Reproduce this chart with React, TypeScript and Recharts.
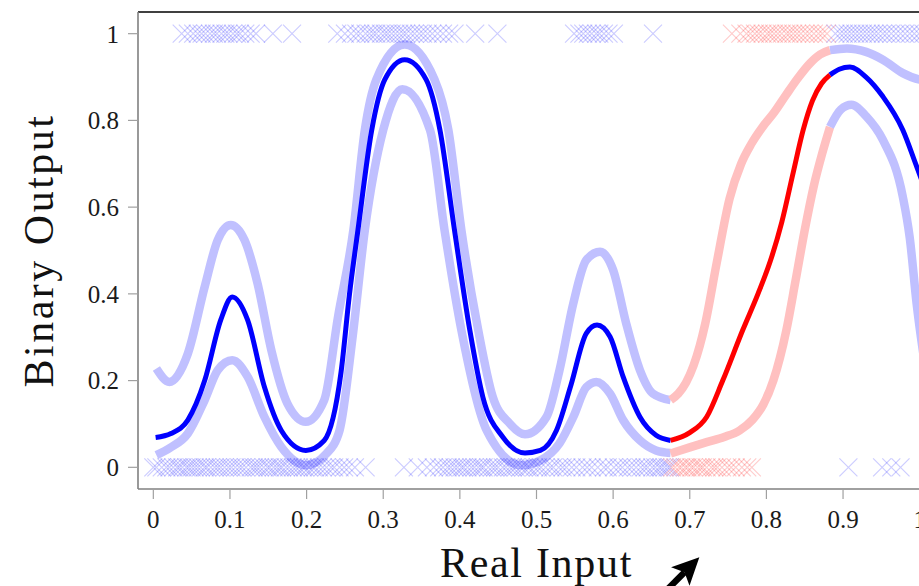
import React from "react";
import { ComposedChart, Line, Scatter, XAxis, YAxis, ReferenceLine } from "recharts";

// ---- tick labels ----
const xTicks = [0, 0.1, 0.2, 0.3, 0.4, 0.5, 0.6, 0.7, 0.8, 0.9, 1];
const yTicks = [0, 0.2, 0.4, 0.6, 0.8, 1];

// ---- predictive mean (blue, first part) ----
const meanBlueAX = [0.003, 0.023, 0.045, 0.067, 0.088, 0.103, 0.123, 0.145, 0.167, 0.199, 0.223, 0.245, 0.256, 0.267, 0.285, 0.302, 0.328, 0.356, 0.374, 0.393, 0.413, 0.43, 0.456, 0.485, 0.505, 0.526, 0.545, 0.565, 0.579, 0.596, 0.613, 0.635, 0.656, 0.675];
const meanBlueAY = [0.069, 0.078, 0.109, 0.2, 0.34, 0.393, 0.34, 0.185, 0.085, 0.039, 0.062, 0.22, 0.4, 0.547, 0.778, 0.894, 0.94, 0.894, 0.778, 0.547, 0.316, 0.162, 0.07, 0.033, 0.039, 0.085, 0.19, 0.309, 0.328, 0.301, 0.209, 0.116, 0.074, 0.062];

// ---- upper band (blue, first part) ----
const upperBlueAX = [0.004, 0.021, 0.045, 0.067, 0.084, 0.101, 0.119, 0.136, 0.154, 0.175, 0.199, 0.223, 0.241, 0.261, 0.276, 0.291, 0.328, 0.367, 0.385, 0.402, 0.424, 0.443, 0.465, 0.485, 0.513, 0.53, 0.548, 0.565, 0.583, 0.6, 0.617, 0.635, 0.652, 0.675];
const upperBlueAY = [0.228, 0.197, 0.262, 0.416, 0.524, 0.559, 0.524, 0.424, 0.27, 0.147, 0.105, 0.155, 0.347, 0.547, 0.778, 0.894, 0.975, 0.894, 0.778, 0.547, 0.316, 0.162, 0.101, 0.076, 0.116, 0.224, 0.378, 0.478, 0.497, 0.455, 0.332, 0.224, 0.17, 0.155];

// ---- lower band (blue, first part) ----
const lowerBlueAX = [0.004, 0.022, 0.045, 0.067, 0.084, 0.103, 0.123, 0.145, 0.167, 0.2, 0.225, 0.243, 0.26, 0.276, 0.3, 0.325, 0.361, 0.38, 0.402, 0.435, 0.48, 0.505, 0.53, 0.548, 0.565, 0.578, 0.596, 0.613, 0.635, 0.656, 0.675];
const lowerBlueAY = [0.028, 0.045, 0.078, 0.155, 0.224, 0.247, 0.209, 0.116, 0.047, 0.005, 0.03, 0.085, 0.3, 0.547, 0.778, 0.872, 0.778, 0.547, 0.316, 0.085, 0.005, 0.016, 0.055, 0.116, 0.185, 0.197, 0.17, 0.109, 0.062, 0.039, 0.033];

// ---- red segment ----
const meanRedX = [0.675, 0.7, 0.722, 0.743, 0.769, 0.789, 0.805, 0.82, 0.835, 0.848, 0.86, 0.872, 0.883];
const meanRedY = [0.062, 0.08, 0.116, 0.2, 0.316, 0.4, 0.475, 0.565, 0.68, 0.778, 0.845, 0.885, 0.905];
const upperRedX = [0.675, 0.685, 0.695, 0.705, 0.713, 0.72, 0.735, 0.752, 0.767, 0.78, 0.795, 0.81, 0.825, 0.84, 0.857, 0.87, 0.883];
const upperRedY = [0.155, 0.17, 0.195, 0.235, 0.28, 0.33, 0.47, 0.62, 0.7, 0.745, 0.785, 0.818, 0.857, 0.895, 0.932, 0.952, 0.962];
const lowerRedX = [0.675, 0.7, 0.722, 0.745, 0.765, 0.782, 0.796, 0.809, 0.826, 0.838, 0.85, 0.862, 0.873, 0.883];
const lowerRedY = [0.032, 0.046, 0.058, 0.07, 0.085, 0.11, 0.145, 0.2, 0.316, 0.43, 0.547, 0.65, 0.725, 0.785];

// ---- blue, last part ----
const meanBlueBX = [0.883, 0.895, 0.909, 0.93, 0.952, 0.978, 0.996, 1.02];
const meanBlueBY = [0.905, 0.918, 0.923, 0.9, 0.855, 0.778, 0.694, 0.58];
const upperBlueBX = [0.883, 0.905, 0.93, 0.952, 0.978, 1.0, 1.02];
const upperBlueBY = [0.962, 0.966, 0.958, 0.94, 0.909, 0.894, 0.89];
const lowerBlueBX = [0.883, 0.897, 0.911, 0.93, 0.952, 0.978, 0.987, 0.996, 1.01];
const lowerBlueBY = [0.785, 0.825, 0.836, 0.81, 0.755, 0.624, 0.53, 0.378, 0.2];

// ---- observations (x positions) ----
const blueZeroA = [0.0, 0.004, 0.011, 0.017, 0.021, 0.026, 0.031, 0.034, 0.038, 0.043, 0.046, 0.05, 0.054, 0.058, 0.062, 0.067, 0.07, 0.075, 0.08, 0.084, 0.088, 0.093, 0.098, 0.102, 0.107, 0.112, 0.116, 0.121, 0.127, 0.131, 0.135, 0.139, 0.144, 0.149, 0.152, 0.157, 0.161, 0.165, 0.168, 0.173, 0.177, 0.182, 0.186, 0.19, 0.195, 0.198, 0.203, 0.208, 0.211, 0.216, 0.221, 0.226, 0.232, 0.236, 0.243, 0.249, 0.255, 0.263, 0.277];
const blueZeroB = [0.327, 0.345, 0.357, 0.366, 0.373, 0.378, 0.384, 0.388, 0.393, 0.397, 0.402, 0.405, 0.41, 0.415, 0.419, 0.424, 0.428, 0.431, 0.437, 0.442, 0.446, 0.45, 0.456, 0.46, 0.465, 0.469, 0.473, 0.479, 0.483, 0.488, 0.491, 0.497, 0.502, 0.506, 0.512, 0.518, 0.522, 0.529, 0.534, 0.539, 0.546, 0.552, 0.56, 0.566, 0.572, 0.58, 0.588, 0.593, 0.601, 0.607, 0.612, 0.619, 0.624, 0.63, 0.636, 0.641, 0.645, 0.651, 0.655, 0.66, 0.663, 0.667, 0.671, 0.674];
const blueZeroC = [0.907, 0.951, 0.963, 0.975];
const redZero = [0.677, 0.681, 0.686, 0.689, 0.694, 0.697, 0.702, 0.705, 0.71, 0.714, 0.717, 0.722, 0.728, 0.732, 0.736, 0.742, 0.749, 0.754, 0.76, 0.768, 0.775, 0.781];
const blueOneA = [0.037, 0.045, 0.052, 0.058, 0.063, 0.068, 0.074, 0.079, 0.083, 0.089, 0.094, 0.098, 0.104, 0.109, 0.113, 0.12, 0.127, 0.134, 0.156, 0.181];
const blueOneB = [0.24, 0.25, 0.258, 0.265, 0.27, 0.277, 0.282, 0.287, 0.291, 0.297, 0.302, 0.306, 0.311, 0.316, 0.321, 0.326, 0.33, 0.336, 0.341, 0.347, 0.352, 0.358, 0.364, 0.371, 0.378, 0.386, 0.393, 0.42, 0.449];
const blueOneC = [0.549, 0.556, 0.561, 0.567, 0.572, 0.578, 0.582, 0.588, 0.594, 0.601, 0.652];
const redOne = [0.755, 0.766, 0.774, 0.779, 0.785, 0.79, 0.795, 0.801, 0.805, 0.81, 0.815, 0.82, 0.826, 0.83, 0.835, 0.84, 0.845, 0.851, 0.856, 0.862, 0.868, 0.873, 0.879];
const blueOneD = [0.89, 0.896, 0.901, 0.906, 0.911, 0.916, 0.921, 0.926, 0.931, 0.936, 0.941, 0.946, 0.952, 0.957, 0.963, 0.969, 0.975, 0.981, 0.987, 0.993, 0.999, 1.005];

// ---- annotation arrow (data coordinates) ----
const arrowFrom = { x: 0.661, y: -0.299 };
const arrowTo = { x: 0.7125, y: -0.2076 };

const toPts = (xs: number[], ys: number[]) => xs.map((x, i) => ({ x, y: ys[i] }));
const toMarks = (xs: number[], y: number) => xs.map((x) => ({ x, y }));

const BLUE = "#0000ff";
const RED = "#ff0000";
const LBLUE = "#c0c0ff";
const LRED = "#ffc0c0";
const FONT = "'Liberation Serif', 'Times New Roman', serif";

const cross = (color: string) => (props: any) => {
  const { cx, cy } = props;
  if (cx == null || cy == null) return <g />;
  const r = 9;
  return (
    <path
      d={`M${cx - r},${cy - r}L${cx + r},${cy + r}M${cx - r},${cy + r}L${cx + r},${cy - r}`}
      stroke={color}
      strokeOpacity={0.2}
      strokeWidth={1.2}
      fill="none"
    />
  );
};

const arrowShape = (props: any) => {
  const { x1, y1, x2, y2 } = props;
  const dx = x2 - x1;
  const dy = y2 - y1;
  const len = Math.hypot(dx, dy) || 1;
  const ux = dx / len;
  const uy = dy / len;
  const px = -uy;
  const py = ux;
  const hl = 27;
  const hw = 13;
  const sw = 3.2;
  const bx = x2 - ux * hl;
  const by = y2 - uy * hl;
  const nx = x2 - ux * (hl - 6);
  const ny = y2 - uy * (hl - 6);
  return (
    <g>
      <path
        d={`M${x1 + px * sw},${y1 + py * sw}L${nx + px * sw},${ny + py * sw}L${nx - px * sw},${ny - py * sw}L${x1 - px * sw},${y1 - py * sw}Z`}
        fill="#000"
      />
      <path
        d={`M${x2},${y2}L${bx + px * hw},${by + py * hw}L${nx},${ny}L${bx - px * hw},${by - py * hw}Z`}
        fill="#000"
      />
    </g>
  );
};

const XTitle = (p: any) => {
  const vb = p.viewBox || { x: 138, y: 489, width: 797, height: 97 };
  return (
    <text x={vb.x + vb.width / 2} y={vb.y + 88} textAnchor="middle" fontFamily={FONT} fontSize={42} letterSpacing={1.7} fill="#111">
      Real Input
    </text>
  );
};

const YTitle = (p: any) => {
  const vb = p.viewBox || { x: 0, y: 12, width: 138, height: 477 };
  const cx = vb.x + 53;
  const cy = vb.y + vb.height / 2;
  return (
    <text x={cx} y={cy} textAnchor="middle" fontFamily={FONT} fontSize={42} letterSpacing={2.5} fill="#111" transform={`rotate(-90, ${cx}, ${cy})`}>
      Binary Output
    </text>
  );
};

const tickStyle = { fontFamily: FONT, fontSize: 25, fill: "#1a1a1a" };

export default function App() {
  const bandW = 8.5;
  const meanW = 5;
  return (
    <div style={{ position: "fixed", top: 0, left: 0, width: 919, height: 586, overflow: "hidden", background: "#fff" }}>
      <ComposedChart width={940} height={586} margin={{ top: 12, right: 5, left: 0, bottom: 0 }}>
        <XAxis
          type="number"
          dataKey="x"
          domain={[-0.02, 1.02]}
          allowDataOverflow
          ticks={xTicks}
          tickFormatter={(v: number) => String(v)}
          interval={0}
          height={97}
          tickSize={10}
          tickMargin={11}
          stroke="#808080"
          axisLine={{ stroke: "#808080", strokeWidth: 1.6 }}
          tickLine={{ stroke: "#a0a0a0", strokeWidth: 1.2 }}
          tick={tickStyle}
          label={{ content: XTitle }}
        />
        <YAxis
          type="number"
          dataKey="y"
          domain={[-0.05, 1.05]}
          allowDataOverflow
          ticks={yTicks}
          tickFormatter={(v: number) => String(v)}
          interval={0}
          width={138}
          tickSize={10}
          tickMargin={9}
          stroke="#808080"
          axisLine={{ stroke: "#808080", strokeWidth: 1.6 }}
          tickLine={{ stroke: "#a0a0a0", strokeWidth: 1.2 }}
          tick={tickStyle}
          label={{ content: YTitle }}
        />
        <ReferenceLine y={1.05} stroke="#000" strokeWidth={1.6} ifOverflow="visible" />

        <Scatter data={toMarks(blueZeroA, 0)} shape={cross(BLUE)} isAnimationActive={false} />
        <Scatter data={toMarks(blueZeroB, 0)} shape={cross(BLUE)} isAnimationActive={false} />
        <Scatter data={toMarks(blueZeroC, 0)} shape={cross(BLUE)} isAnimationActive={false} />
        <Scatter data={toMarks(redZero, 0)} shape={cross(RED)} isAnimationActive={false} />
        <Scatter data={toMarks(blueOneA, 1)} shape={cross(BLUE)} isAnimationActive={false} />
        <Scatter data={toMarks(blueOneB, 1)} shape={cross(BLUE)} isAnimationActive={false} />
        <Scatter data={toMarks(blueOneC, 1)} shape={cross(BLUE)} isAnimationActive={false} />
        <Scatter data={toMarks(redOne, 1)} shape={cross(RED)} isAnimationActive={false} />
        <Scatter data={toMarks(blueOneD, 1)} shape={cross(BLUE)} isAnimationActive={false} />

        <Line data={toPts(upperBlueAX, upperBlueAY)} dataKey="y" type="monotone" stroke={LBLUE} strokeWidth={bandW} dot={false} activeDot={false} isAnimationActive={false} />
        <Line data={toPts(lowerBlueAX, lowerBlueAY)} dataKey="y" type="monotone" stroke={LBLUE} strokeWidth={bandW} dot={false} activeDot={false} isAnimationActive={false} />
        <Line data={toPts(upperRedX, upperRedY)} dataKey="y" type="monotone" stroke={LRED} strokeWidth={bandW} dot={false} activeDot={false} isAnimationActive={false} />
        <Line data={toPts(lowerRedX, lowerRedY)} dataKey="y" type="monotone" stroke={LRED} strokeWidth={bandW} dot={false} activeDot={false} isAnimationActive={false} />
        <Line data={toPts(upperBlueBX, upperBlueBY)} dataKey="y" type="monotone" stroke={LBLUE} strokeWidth={bandW} dot={false} activeDot={false} isAnimationActive={false} />
        <Line data={toPts(lowerBlueBX, lowerBlueBY)} dataKey="y" type="monotone" stroke={LBLUE} strokeWidth={bandW} dot={false} activeDot={false} isAnimationActive={false} />

        <Line data={toPts(meanBlueAX, meanBlueAY)} dataKey="y" type="monotone" stroke={BLUE} strokeWidth={meanW} dot={false} activeDot={false} isAnimationActive={false} />
        <Line data={toPts(meanRedX, meanRedY)} dataKey="y" type="monotone" stroke={RED} strokeWidth={meanW} dot={false} activeDot={false} isAnimationActive={false} />
        <Line data={toPts(meanBlueBX, meanBlueBY)} dataKey="y" type="monotone" stroke={BLUE} strokeWidth={meanW} dot={false} activeDot={false} isAnimationActive={false} />

        <ReferenceLine segment={[arrowFrom, arrowTo]} ifOverflow="visible" shape={arrowShape} />
      </ComposedChart>
    </div>
  );
}
